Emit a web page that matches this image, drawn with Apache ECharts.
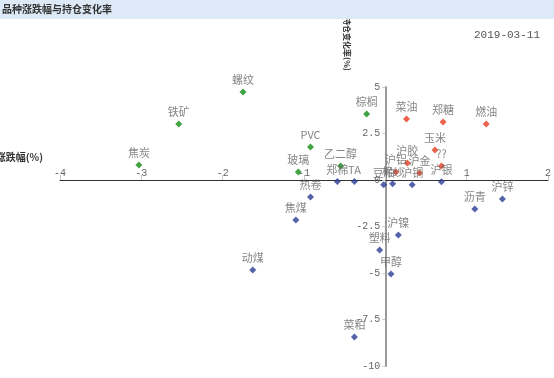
<!DOCTYPE html>
<html><head><meta charset="utf-8">
<script src="https://cdn.jsdelivr.net/npm/echarts@6/dist/echarts.min.js"></script>
<style>html,body{margin:0;padding:0;background:#fff}#c{width:554px;height:378px}</style>
</head><body><div id="c"></div>
<script>
// 品种, 涨跌幅(%), 持仓变化率(%)
const names = ['螺纹','铁矿','焦炭','PVC','玻璃','乙二醇','棕榈',
  '菜油','郑糖','燃油','玉米','??','沪胶','沪铝','沪金',
  '郑棉','TA','豆粕','棉纱','沪铜','沪银','热卷','焦煤','动煤','沪镍','塑料','甲醇','菜粕','沥青','沪锌'];
const changePct = [-1.75,-2.54,-3.03,-0.92,-1.07,-0.55,-0.23,
  0.26,0.71,1.24,0.61,0.69,0.27,0.13,0.42,
  -0.59,-0.38,-0.02,0.09,0.33,0.69,-0.92,-1.10,-1.63,0.16,-0.07,0.07,-0.38,1.10,1.44];
const oiChangePct = [4.73,3.01,0.81,1.77,0.43,0.75,3.55,
  3.28,3.12,3.01,1.61,0.75,0.91,0.43,0.38,
  -0.08,-0.08,-0.25,-0.2,-0.25,-0.1,-0.91,-2.15,-4.84,-2.96,-3.76,-5.05,-8.44,-1.56,-1.02];
const xTicks = {min:-4, max:2, interval:1};
const yTicks = {min:-10, max:5, interval:2.5};
const titleText = '品种涨跌幅与持仓变化率';
const dateText = '2019-03-11';
const xName = '涨跌幅(%)';
const yName = '持仓变化率(%)';

const FONT = '"Noto Sans CJK SC", sans-serif';
const MONO = '"Liberation Mono", "DejaVu Sans Mono", monospace';
const groups = {green:[], red:[], blue:[]};
names.forEach((n,i)=>{
  const x = changePct[i], y = oiChangePct[i];
  const g = y < 0 ? 'blue' : (x < 0 ? 'green' : 'red');
  groups[g].push({name:n, value:[x,y]});
});
const colors = {green:'#118c11', red:'#e53b1c', blue:'#2b3c96'};
const series = Object.keys(groups).map(k=>({
  type:'scatter', symbol:'diamond', symbolSize:7,
  itemStyle:{color:colors[k]},
  data:groups[k],
  label:{show:true, position:'top', distance:3, formatter:'{b}', color:'#666', fontSize:11, fontFamily:FONT},
  emphasis:{disabled:true}
}));

const grid = {left:60, right:6, top:87, bottom:12};
const chart = echarts.init(document.getElementById('c'));
function buildOption(xOff, yOff){
  return {
  animation:false,
  textStyle:{fontFamily:FONT},
  grid:grid,
  xAxis:{type:'value', min:xTicks.min, max:xTicks.max, interval:xTicks.interval,
    position:'bottom', offset:xOff,
    axisLine:{onZero:false, lineStyle:{color:'#333', width:1}},
    axisTick:{show:true, inside:true, length:5, lineStyle:{color:'#ccc'}},
    axisLabel:{inside:true, margin:2, fontSize:10, color:'#666', fontFamily:MONO,
      formatter:v=> v===0 ? '' : String(v)},
    splitLine:{show:false}},
  yAxis:{type:'value', min:yTicks.min, max:yTicks.max, interval:yTicks.interval,
    position:'left', offset:yOff,
    axisLine:{onZero:false, lineStyle:{color:'#999', width:2}},
    axisTick:{show:true, length:3, lineStyle:{color:'#ccc'}},
    axisLabel:{margin:5, fontSize:10, color:'#666', fontFamily:MONO},
    splitLine:{show:false}},
  graphic:[
    {type:'rect', left:0, top:0, shape:{width:554, height:19}, style:{fill:'#dde9f7'}, z:10},
    {type:'text', left:2, top:4, style:{text:titleText, fill:'#333', font:'bold 10px '+FONT}, z:11},
    {type:'text', right:14, top:30, style:{text:dateText, fill:'#555', font:'11px '+MONO}},
    {type:'text', x:43, y:157, style:{text:xName, fill:'#333', font:'bold 10px '+FONT, align:'right', verticalAlign:'middle'}},
    {type:'text', x:347, y:44, rotation:-Math.PI/2, style:{text:yName, fill:'#333', font:'bold 8px '+FONT, align:'center', verticalAlign:'middle'}}
  ],
  series:series
  };
}
chart.setOption(buildOption(0,0));
const origin = chart.convertToPixel({gridIndex:0}, [0,0]);
const H = chart.getHeight();
const xOff = -((H - grid.bottom) - origin[1]);
const yOff = -(origin[0] - grid.left);
chart.setOption(buildOption(xOff, yOff), true);
</script></body></html>
